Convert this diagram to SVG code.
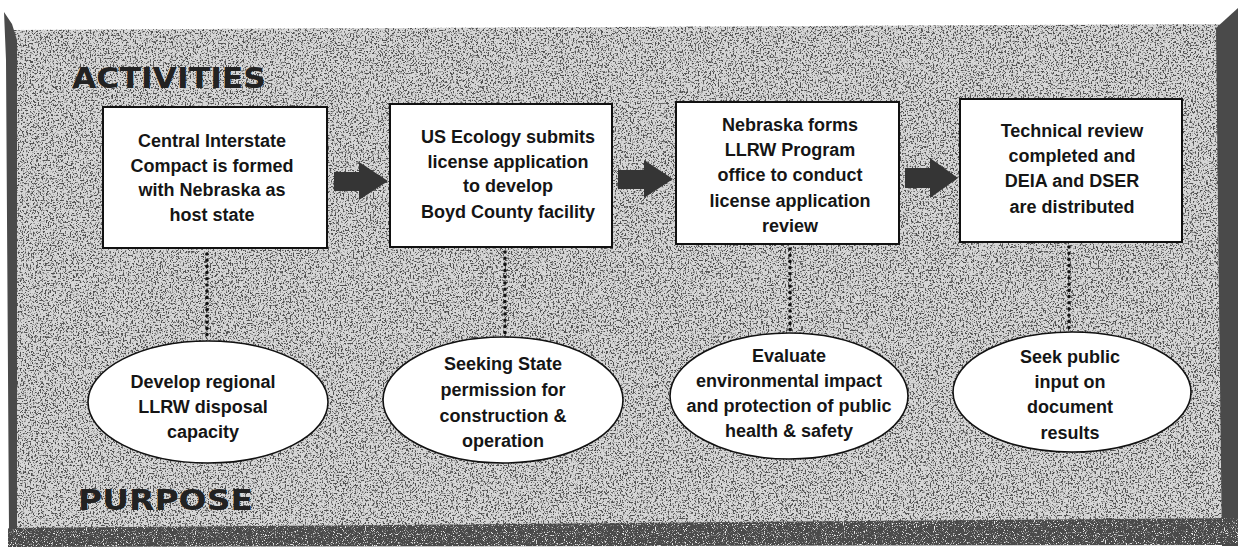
<svg xmlns="http://www.w3.org/2000/svg" width="1238" height="548" viewBox="0 0 1238 548">
  <defs>
    <filter id="grain" x="0" y="0" width="1" height="1" filterUnits="objectBoundingBox">
      <feTurbulence type="fractalNoise" baseFrequency="0.6" numOctaves="3" seed="4" result="t"/>
      <feColorMatrix in="t" type="matrix" values="0 0 0 0 0.08  0 0 0 0 0.08  0 0 0 0 0.08  7 0 0 0 -3.6" result="s"/>
      <feComposite in="s" in2="SourceGraphic" operator="in"/>
    </filter>
    <filter id="grainLight" x="0" y="0" width="1" height="1" filterUnits="objectBoundingBox">
      <feTurbulence type="fractalNoise" baseFrequency="0.9" numOctaves="2" seed="9" result="t"/>
      <feColorMatrix in="t" type="matrix" values="0 0 0 0 0.85  0 0 0 0 0.85  0 0 0 0 0.85  6 0 0 0 -3.4" result="s"/>
      <feComposite in="s" in2="SourceGraphic" operator="in"/>
    </filter>
  </defs>
  <style>
    .heading { font-family: "DejaVu Sans", "Liberation Sans", sans-serif; font-weight: bold; font-size: 28px; fill: #222; }
    .box { fill: #fff; stroke: #111; stroke-width: 2; }
    .ell { fill: #fff; stroke: #111; stroke-width: 1.6; }
    .lbl { font-family: "Liberation Sans", Arial, sans-serif; font-weight: bold; font-size: 18px; fill: #151515; text-anchor: middle; }
    .arrow { fill: #353535; }
    .dots { stroke: #111; stroke-width: 3.6; stroke-linecap: round; stroke-dasharray: 0 6.2; fill: none; }
    .dark { fill: #4a4a4a; }
  </style>

  <rect x="0" y="0" width="1238" height="548" fill="#ffffff"/>

  <!-- textured panel -->
  <g id="panel">
    <polygon points="12,30 1220,24 1224,524 14,530" fill="#d6d6d6"/>
    <polygon points="12,30 1220,24 1224,524 14,530" fill="#000" filter="url(#grain)"/>
    <polygon class="dark" points="4,12 12,24 17,40 17,532 9,532 6,60"/>
    <polygon class="dark" points="1216,28 1238,8 1238,546 1222,546 1219,300"/>
    <polygon class="dark" points="8,528 1238,518 1238,545 8,547"/>
    <polygon points="8,528 1238,518 1238,545 8,547" fill="#000" filter="url(#grainLight)"/>
  </g>

  <g id="label-activities">
    <text class="heading" x="72" y="88" textLength="194" lengthAdjust="spacingAndGlyphs">ACTIVITIES</text>
  </g>
  <g id="label-purpose">
    <text class="heading" x="78" y="510" textLength="175" lengthAdjust="spacingAndGlyphs">PURPOSE</text>
  </g>

  <!-- connectors -->
  <g id="connectors">
    <path class="arrow" d="M334,172 H359 V162 L388,181 L359,200 V191 H334 Z"/>
    <path class="arrow" d="M618,170 H644 V160 L673,179 L644,198 V189 H618 Z"/>
    <path class="arrow" d="M905,168 H930 V158 L958,178 L930,198 V188 H905 Z"/>
    <line class="dots" x1="207" y1="254" x2="207" y2="336"/>
    <line class="dots" x1="505" y1="252" x2="505" y2="334"/>
    <line class="dots" x1="790" y1="249" x2="790" y2="331"/>
    <line class="dots" x1="1069" y1="247" x2="1069" y2="329"/>
  </g>

  <!-- activity boxes -->
  <g id="box1">
    <rect class="box" x="103" y="107" width="224" height="141"/>
    <text class="lbl" x="212" y="147">Central Interstate</text>
    <text class="lbl" x="212" y="172">Compact is formed</text>
    <text class="lbl" x="212" y="196">with Nebraska as</text>
    <text class="lbl" x="212" y="221">host state</text>
  </g>
  <g id="box2">
    <rect class="box" x="390" y="104" width="222" height="143"/>
    <text class="lbl" x="508" y="143">US Ecology submits</text>
    <text class="lbl" x="508" y="168">license application</text>
    <text class="lbl" x="508" y="192">to develop</text>
    <text class="lbl" x="508" y="218">Boyd County facility</text>
  </g>
  <g id="box3">
    <rect class="box" x="676" y="102" width="223" height="142"/>
    <text class="lbl" x="790" y="131">Nebraska forms</text>
    <text class="lbl" x="790" y="156">LLRW Program</text>
    <text class="lbl" x="790" y="181">office to conduct</text>
    <text class="lbl" x="790" y="207">license application</text>
    <text class="lbl" x="790" y="232">review</text>
  </g>
  <g id="box4">
    <rect class="box" x="960" y="99" width="222" height="143"/>
    <text class="lbl" x="1072" y="137">Technical review</text>
    <text class="lbl" x="1072" y="162">completed and</text>
    <text class="lbl" x="1072" y="187">DEIA and DSER</text>
    <text class="lbl" x="1072" y="213">are distributed</text>
  </g>

  <!-- purpose ellipses -->
  <g id="purpose1">
    <ellipse class="ell" cx="208" cy="402" rx="120" ry="61"/>
    <text class="lbl" x="203" y="388">Develop regional</text>
    <text class="lbl" x="203" y="413">LLRW disposal</text>
    <text class="lbl" x="203" y="438">capacity</text>
  </g>
  <g id="purpose2">
    <ellipse class="ell" cx="503" cy="400" rx="120" ry="63"/>
    <text class="lbl" x="503" y="370">Seeking State</text>
    <text class="lbl" x="503" y="396">permission for</text>
    <text class="lbl" x="503" y="422">construction &amp;</text>
    <text class="lbl" x="503" y="447">operation</text>
  </g>
  <g id="purpose3">
    <ellipse class="ell" cx="789" cy="396" rx="119" ry="63"/>
    <text class="lbl" x="789" y="362">Evaluate</text>
    <text class="lbl" x="789" y="387">environmental impact</text>
    <text class="lbl" x="789" y="412">and protection of public</text>
    <text class="lbl" x="789" y="437">health &amp; safety</text>
  </g>
  <g id="purpose4">
    <ellipse class="ell" cx="1072" cy="392" rx="119" ry="60"/>
    <text class="lbl" x="1070" y="363">Seek public</text>
    <text class="lbl" x="1070" y="388">input on</text>
    <text class="lbl" x="1070" y="413">document</text>
    <text class="lbl" x="1070" y="439">results</text>
  </g>
</svg>
